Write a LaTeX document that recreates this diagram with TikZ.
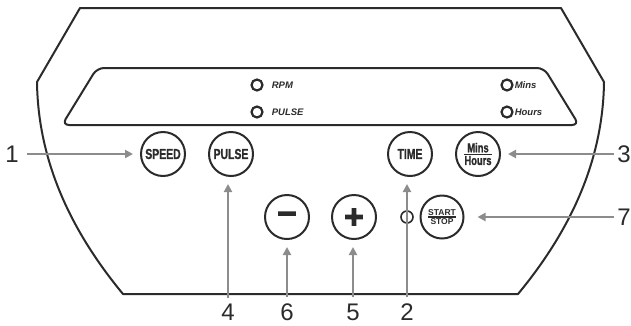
\documentclass[tikz,border=0pt]{standalone}
\usepackage{amsmath}
\usepackage{fontspec}
\setmainfont{Liberation Sans}
\newfontfamily\btnfont[FakeStretch=0.72,FakeBold=1.2]{Liberation Sans}
\newfontfamily\signfont[FakeBold=6]{DejaVu Sans}
\usetikzlibrary{arrows.meta,positioning}
\definecolor{ink}{HTML}{2B2B2B}
\definecolor{pointer}{HTML}{8C8C8C}
\newcommand\btnfrac[2]{$\genfrac{}{}{1.2pt}{1}{\hbox{#1}}{\hbox{#2}}$}

\begin{document}
\begin{tikzpicture}[x=1pt,y=-1pt,
	button/.style={circle, draw=ink, line width=2pt, minimum size=44pt, inner sep=0pt, text=ink, font=\btnfont\bfseries\fontsize{14.5}{14.5}\selectfont},
	led/.style={circle, draw=ink, line width=2.2pt, minimum size=11pt, inner sep=0pt},
	ledtext/.style={font=\bfseries\itshape\fontsize{9.5}{9.5}\selectfont, text=ink, inner sep=0pt},
	num/.style={font=\fontsize{24}{24}\selectfont, text=ink, inner sep=0pt},
	callout/.style={draw=pointer, line width=2.4pt, -{Triangle[length=8pt,width=8pt]}, shorten >=7pt}]
	\useasboundingbox (0,0) rectangle (631,325);
	% housing and display window
	\draw[ink, line width=2pt, line join=round] (80,8) -- (561,8) -- (604,82)
		.. controls (603,160) and (571,230) .. (518,294) -- (123,294)
		.. controls (70,230) and (38,160) .. (37,82) -- cycle;
	\draw[ink, line width=2pt, rounded corners=7pt] (97,68) -- (544,68) -- (579,125) -- (62,125) -- cycle;
	% indicator lamps
	\node[led] (rpm) at (257,85) {};
	\node[ledtext, right=8pt of rpm] (rpmtext) {RPM};
	\node[led] (pulseled) at (257,112) {};
	\node[ledtext, right=8pt of pulseled] (pulsetext) {PULSE};
	\node[led] (mins) at (507,85) {};
	\node[ledtext, right=1pt of mins] (minstext) {Mins};
	\node[led] (hours) at (507,112) {};
	\node[ledtext, right=1pt of hours] (hourstext) {Hours};
	% buttons
	\node[button] (speed) at (163,154) {SPEED};
	\node[button] (pulse) at (231,154) {PULSE};
	\node[button] (time) at (410,154) {TIME};
	\node[button, font=\btnfont\bfseries\fontsize{13}{13}\selectfont] (minshours) at (478,154) {\btnfrac{Mins}{Hours}};
	\node[button] (minus) at (287,217) {\signfont\bfseries\fontsize{26}{26}\selectfont −};
	\node[button] (plus) at (354,217) {\signfont\bfseries\fontsize{26}{26}\selectfont +};
	\node[circle, draw=ink, line width=1.6pt, minimum size=12pt, inner sep=0pt] (startled) at (407,217) {};
	\node[button, minimum size=43pt, font=\bfseries\fontsize{8.5}{8.5}\selectfont] (startstop) at (442,217) {\btnfrac{START}{STOP}};
	% numbered callouts
	\node[num] (n1) at (12,154) {1};
	\node[num] (n3) at (624,154) {3};
	\node[num] (n7) at (624,217) {7};
	\node[num] (n4) at (228,312) {4};
	\node[num] (n6) at (287,312) {6};
	\node[num] (n5) at (353,312) {5};
	\node[num] (n2) at (407,312) {2};
	\draw[callout, shorten <=8pt] (n1) -- (speed);
	\draw[callout, shorten <=3pt] (n3) -- (minshours);
	\draw[callout, shorten <=3pt, shorten >=13pt] (n7) -- (startstop);
	\draw[callout, shorten <=6pt] (n4) -- (n4 |- pulse.south);
	\draw[callout, shorten <=6pt] (n6) -- (minus);
	\draw[callout, shorten <=6pt] (n5) -- (n5 |- plus.south);
	\draw[callout, shorten <=6pt] (n2) -- (n2 |- time.south);
\end{tikzpicture}
\end{document}
